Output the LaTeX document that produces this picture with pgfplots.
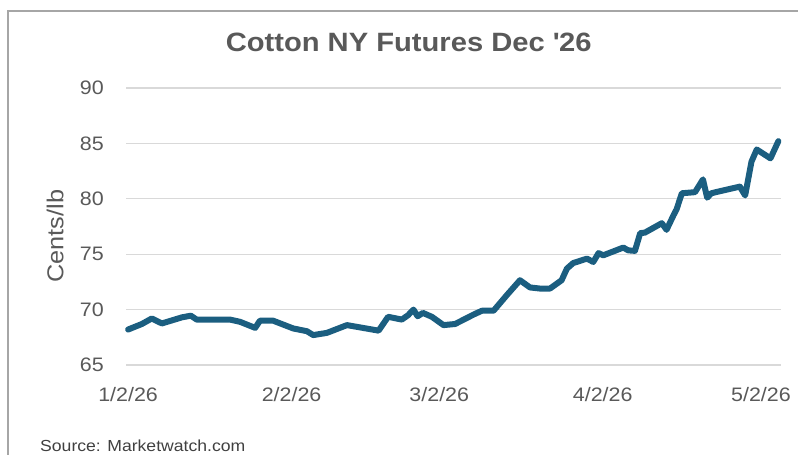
\documentclass[border=0pt]{standalone}
\usepackage{fontspec}
\setmainfont[FakeStretch=1.1]{Liberation Sans}
\usepackage{pgfplots}
\pgfplotsset{compat=1.18}
\definecolor{linec}{HTML}{1B5E80}
\definecolor{txt}{HTML}{595959}
\definecolor{gridc}{HTML}{D9D9D9}
\definecolor{framec}{HTML}{A6A6A6}
\begin{document}
\begin{tikzpicture}[x=1pt,y=1pt]
\path[use as bounding box] (0,0) rectangle (798,455);
\draw[framec, line width=1.5pt] (8,-10) -- (8,444) -- (810,444);
\begin{axis}[
  at={(126pt,90pt)}, anchor=south west,
  scale only axis, width=655pt, height=277pt,
  xmin=-0.4, xmax=123.8, ymin=65, ymax=90,
  xtick={0,31,59,90,120},
  xticklabels={1/2/26,2/2/26,3/2/26,4/2/26,5/2/26},
  ytick={65,70,75,80,85,90},
  axis line style={draw=none},
  tick style={draw=none},
  major tick length=0pt,
  ymajorgrids, grid style={gridc, line width=1.2pt},
  /pgf/number format/assume math mode=true,
  tick label style={font=\fontsize{19.5}{20}\selectfont, text=txt},
  yticklabel style={inner sep=0pt, anchor=east, xshift=-22pt},
  xticklabel style={inner sep=0pt, anchor=north, yshift=-22pt},
  title={Cotton NY Futures Dec \textquotesingle 26},
  title style={at={(axis description cs:0.4316,1.1426)}, anchor=center, font=\bfseries\fontsize{26.5}{27}\selectfont, text=txt},
  ylabel={Cents/lb},
  ylabel style={at={(axis description cs:-0.108,0.465)}, anchor=center, font=\fontsize{23}{24}\selectfont, text=txt},
  clip=false,
]
\addplot[linec, line width=6pt, line join=round, line cap=round] coordinates {
(0,68.2) (2.6,68.7) (4.5,69.2) (6.4,68.75) (10.2,69.3) (11.9,69.45) (13.0,69.1)
(19.3,69.1) (21.2,68.9) (24.1,68.35) (25.0,69.0) (27.5,69.0) (31.3,68.3) (33.9,68.05)
(35.1,67.7) (37.7,67.9) (41.5,68.6) (47.5,68.1) (49.3,69.35) (51.9,69.1) (53.1,69.5)
(54.1,70.0) (54.9,69.4) (55.9,69.7) (57.6,69.35) (59.8,68.6) (62.0,68.7) (65.5,69.55)
(67.1,69.9) (69.3,69.9) (71.8,71.3) (74.3,72.65) (76.2,72.0) (78.1,71.9) (80.0,71.9)
(82.2,72.65) (83.2,73.7) (84.4,74.2) (87.0,74.6) (88.2,74.3) (89.2,75.1) (90.1,74.9)
(93.9,75.6) (94.8,75.35) (96.1,75.3) (97.1,76.9) (98.0,76.95) (101.2,77.8) (102.1,77.2)
(103.4,78.5) (104.0,79.05) (105.0,80.5) (107.5,80.6) (109.0,81.75) (109.8,80.1) (110.6,80.5)
(111.9,80.65) (116.0,81.1) (117.0,80.3) (118.2,83.35) (119.2,84.45) (121.8,83.65) (123.3,85.2)
};
\end{axis}
\node[anchor=base west, inner sep=0pt, font=\fontsize{16}{17}\selectfont, text=black!75] at (40,3.5) {Source: Marketwatch.com};
\end{tikzpicture}
\end{document}
